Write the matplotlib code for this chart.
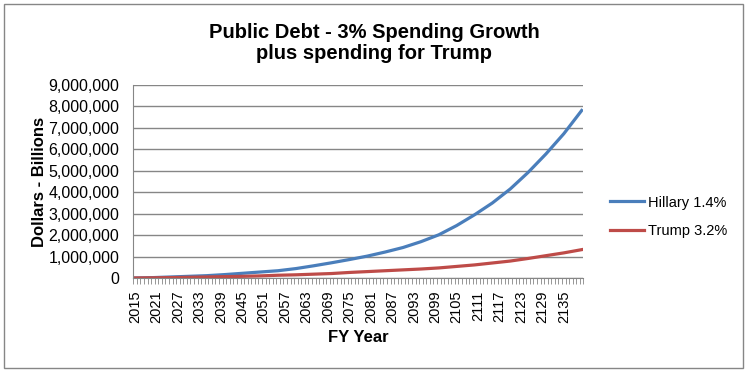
import numpy as np
import matplotlib
matplotlib.use('Agg')
import matplotlib.pyplot as plt
from matplotlib.ticker import FuncFormatter
from matplotlib.patches import Rectangle

# values in billions of dollars, read every 5 years
years = list(range(2015, 2141, 5))
hillary = [13000, 30000, 60000, 90000, 120000, 170000, 230000, 290000, 350000,
           450000, 580000, 720000, 870000, 1030000, 1220000, 1430000, 1700000,
           2020000, 2450000, 2950000, 3500000, 4150000, 4920000, 5780000,
           6720000, 7800000]
trump = [13000, 20000, 30000, 45000, 60000, 75000, 90000, 110000, 140000,
         160000, 190000, 220000, 270000, 310000, 350000, 390000, 430000,
         480000, 550000, 620000, 710000, 800000, 920000, 1050000, 1180000,
         1330000]
first_year = 2015
last_year = 2140
label_years = list(range(2015, 2136, 6))

plt.rcParams['font.family'] = ['Liberation Sans', 'DejaVu Sans']

fig = plt.figure(figsize=(7.49, 3.73), dpi=100)
ax = fig.add_axes([0.178, 0.254, 0.601, 0.519])

xpos = [y - first_year for y in years]
ax.plot(xpos, hillary, color='#4A7EBB', lw=2.3, label='Hillary 1.4%')
ax.plot(xpos, trump, color='#BE4B48', lw=2.3, label='Trump 3.2%')

ax.set_xlim(-0.5, last_year - first_year + 0.5)
ax.set_ylim(0, 9000000)
ax.set_yticks(np.arange(0, 9000001, 1000000))
ax.yaxis.set_major_formatter(FuncFormatter(lambda v, p: f'{int(v):,}'))
ax.grid(axis='y', color='#868686', lw=1)
ax.set_axisbelow(True)

ax.set_xticks([y - first_year for y in label_years])
ax.set_xticklabels([str(y) for y in label_years], rotation=90)
ax.set_xticks(np.arange(-0.5, last_year - first_year + 1, 1), minor=True)
ax.tick_params(axis='x', which='major', length=0, pad=9, labelsize=10.5)
ax.tick_params(axis='x', which='minor', length=4, color='#868686', direction='out')
ax.tick_params(axis='y', length=0, pad=10, labelsize=11.5)

for s in ['top', 'right']:
    ax.spines[s].set_visible(False)
for s in ['left', 'bottom']:
    ax.spines[s].set_color('#868686')

ax.set_xlabel('FY Year', fontsize=12, fontweight='bold', labelpad=5)
ax.set_ylabel('Dollars - Billions', fontsize=12, fontweight='bold', labelpad=1)

fig.text(0.5, 0.885, 'Public Debt - 3% Spending Growth\nplus spending for Trump',
         ha='center', va='center', fontsize=14.5, fontweight='bold',
         linespacing=1.15)

ax.legend(loc='center left', bbox_to_anchor=(1.03, 0.317), frameon=False,
          fontsize=10.5, handlelength=2.3, labelspacing=1.0, handletextpad=0.3)

fig.add_artist(Rectangle((0.006, 0.013), 0.986, 0.975, transform=fig.transFigure,
                         fill=False, edgecolor='#868686', lw=1))

fig.savefig('out.png', dpi=100)
